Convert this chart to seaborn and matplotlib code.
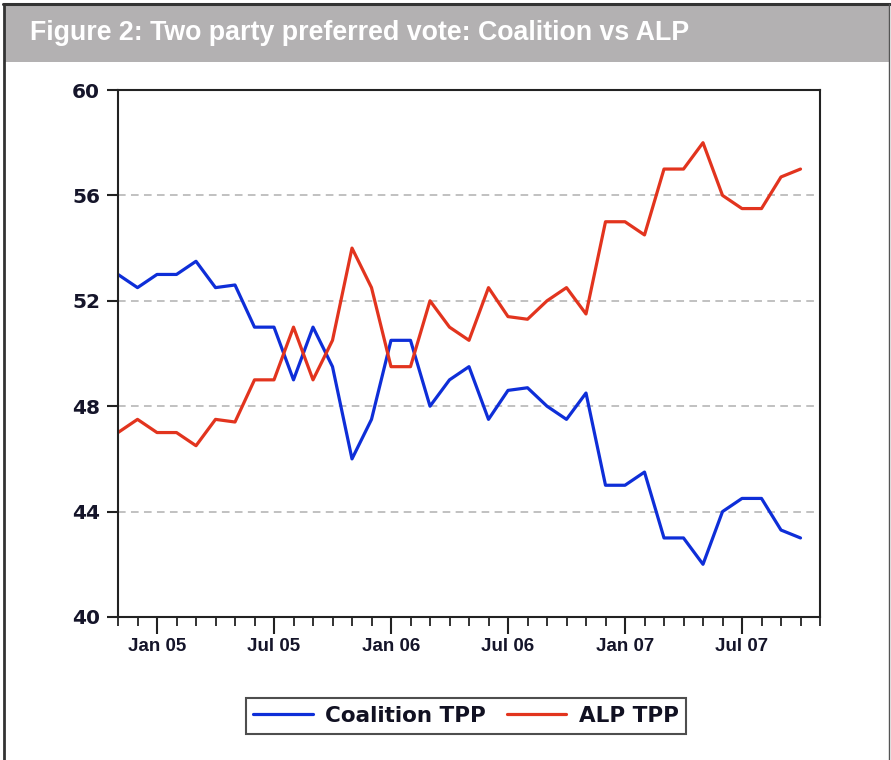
import numpy as np
import pandas as pd
import matplotlib
matplotlib.use("Agg")
import matplotlib.pyplot as plt
import seaborn as sns
from matplotlib.lines import Line2D
from matplotlib.patches import Rectangle
from matplotlib.ticker import FixedLocator, NullFormatter, FixedFormatter

# ---------------- data ----------------
months = ["Nov 04", "Dec 04", "Jan 05", "Feb 05", "Mar 05", "Apr 05", "May 05", "Jun 05",
          "Jul 05", "Aug 05", "Sep 05", "Oct 05", "Nov 05", "Dec 05", "Jan 06", "Feb 06",
          "Mar 06", "Apr 06", "May 06", "Jun 06", "Jul 06", "Aug 06", "Sep 06", "Oct 06",
          "Nov 06", "Dec 06", "Jan 07", "Feb 07", "Mar 07", "Apr 07", "May 07", "Jun 07",
          "Jul 07", "Aug 07", "Sep 07", "Oct 07"]
coalition = [53.0, 52.5, 53.0, 53.0, 53.5, 52.5, 52.6, 51.0, 51.0, 49.0, 51.0, 49.5,
             46.0, 47.5, 50.5, 50.5, 48.0, 49.0, 49.5, 47.5, 48.6, 48.7, 48.0, 47.5,
             48.5, 45.0, 45.0, 45.5, 43.0, 43.0, 42.0, 44.0, 44.5, 44.5, 43.3, 43.0]
alp = [47.0, 47.5, 47.0, 47.0, 46.5, 47.5, 47.4, 49.0, 49.0, 51.0, 49.0, 50.5,
       54.0, 52.5, 49.5, 49.5, 52.0, 51.0, 50.5, 52.5, 51.4, 51.3, 52.0, 52.5,
       51.5, 55.0, 55.0, 54.5, 57.0, 57.0, 58.0, 56.0, 55.5, 55.5, 56.7, 57.0]
series_names = ["Coalition TPP", "ALP TPP"]
tick_labels = ["Jan 05", "Jul 05", "Jan 06", "Jul 06", "Jan 07", "Jul 07"]
y_ticks = [40, 44, 48, 52, 56, 60]
title = "Figure 2: Two party preferred vote: Coalition vs ALP"

# ---------------- build frame ----------------
n = len(months)
df = pd.DataFrame({
    "idx": list(range(n)) * 2,
    "month": months * 2,
    "value": coalition + alp,
    "series": [series_names[0]] * n + [series_names[1]] * n,
})

BLUE = "#0e2ed8"
RED = "#e2341e"
palette = {series_names[0]: BLUE, series_names[1]: RED}

sns.set_theme(style="white")
plt.rcParams["font.family"] = ["DejaVu Sans"]

W, H = 891, 760
fig = plt.figure(figsize=(W / 100, H / 100), dpi=100)
fig.patch.set_facecolor("white")

# header bar and frame
fig.add_artist(Rectangle((4 / W, 1 - 62 / H), (889 - 4) / W, (62 - 5) / H,
                         transform=fig.transFigure, facecolor="#b3b1b2",
                         edgecolor="none", zorder=0))
fig.add_artist(Line2D([3 / W, 890 / W], [1 - 4 / H, 1 - 4 / H], transform=fig.transFigure,
                      color="#333333", lw=2.2))
fig.add_artist(Line2D([4 / W, 4 / W], [0, 1 - 4 / H], transform=fig.transFigure,
                      color="#333333", lw=2.0))
fig.add_artist(Line2D([889 / W, 889 / W], [0, 1 - 4 / H], transform=fig.transFigure,
                      color="#555555", lw=1.0))
fig.text(30 / W, 1 - 33 / H, title, color="white", fontsize=19.3, fontweight="bold",
         family=["Liberation Sans", "DejaVu Sans"], ha="left", va="center")

ax = fig.add_axes([118 / W, 1 - 617 / H, (820 - 118) / W, (617 - 90) / H])
sns.lineplot(data=df, x="idx", y="value", hue="series", palette=palette,
             linewidth=2.3, ax=ax, legend=False, sort=False)

ax.set_xlim(0, 36)
ax.set_ylim(40, 60)
ax.set_xlabel("")
ax.set_ylabel("")

# grid lines
for yv in y_ticks[1:-1]:
    ax.axhline(yv, color="#b0b0b0", lw=1.1, ls=(0, (5, 3.5)), zorder=0)

for s in ax.spines.values():
    s.set_color("#222222")
    s.set_linewidth(1.5)

major_pos = [months.index(l) for l in tick_labels]
ax.xaxis.set_major_locator(FixedLocator(major_pos))
ax.xaxis.set_major_formatter(FixedFormatter(tick_labels))
ax.xaxis.set_minor_locator(FixedLocator(list(range(0, 37))))
ax.xaxis.set_minor_formatter(NullFormatter())
ax.set_yticks(y_ticks)
ax.set_yticklabels([str(v) for v in y_ticks])

ax.tick_params(axis="x", which="major", direction="out", length=12, width=1.5,
               color="#222222", pad=3, bottom=True)
ax.tick_params(axis="x", which="minor", direction="out", length=6.5, width=1.3,
               color="#222222", bottom=True)
ax.tick_params(axis="y", which="major", direction="out", length=8, width=1.5,
               color="#222222", pad=5, left=True)
for lab in ax.get_xticklabels():
    lab.set_family(["Liberation Sans", "DejaVu Sans"])
    lab.set_fontweight("bold")
    lab.set_fontsize(13.5)
    lab.set_color("#15152a")
for lab in ax.get_yticklabels():
    lab.set_fontweight("bold")
    lab.set_fontsize(14.5)
    lab.set_color("#15152a")

handles = [Line2D([], [], color=BLUE, lw=2.3), Line2D([], [], color=RED, lw=2.3)]
leg = fig.legend(handles, series_names, loc="center", bbox_to_anchor=(466 / W, 1 - 716 / H),
                 ncol=2, frameon=True, fancybox=False, edgecolor="#222222",
                 prop={"weight": "bold", "size": 15.5}, handlelength=2.75,
                 handletextpad=0.6, columnspacing=0.95, borderpad=0.35)
leg.get_frame().set_linewidth(1.5)
for t in leg.get_texts():
    t.set_color("#111122")

fig.savefig("out.png", dpi=100, facecolor="white")
